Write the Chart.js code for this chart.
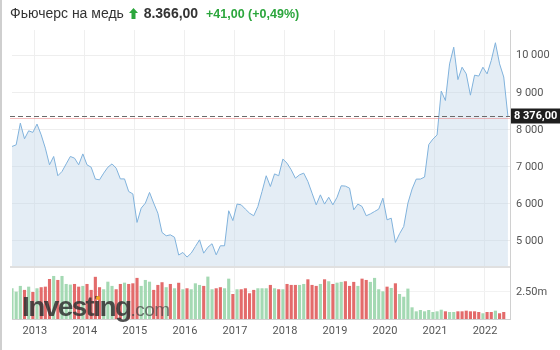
<!DOCTYPE html>
<html>
<head>
<meta charset="utf-8">
<script src="https://cdn.jsdelivr.net/npm/chart.js@4.4.1/dist/chart.umd.min.js"></script>
<style>
  body { margin: 0; background: #fff; }
  #wrap { position: relative; width: 560px; height: 350px; overflow: hidden; font-family: "Liberation Sans", Arial, sans-serif; }
  #edge { position: absolute; left: 0; top: 0; width: 2px; height: 350px; background: #cfcfcf; }
  #title { position: absolute; left: 10px; top: 4px; font-size: 14px; line-height: 18px; color: #333; white-space: nowrap; }
  #title b { color: #333; }
  #title .chg { color: #2ba63c; font-weight: bold; font-size: 12.5px; margin-left: 4px; }
  #title svg { vertical-align: -1px; margin: 0 2px 0 1px; }
  #mark { position: absolute; left: 22px; top: 293px; line-height: 28px; white-space: nowrap; pointer-events: none; }
  #mark .big { font-size: 28px; font-weight: bold; letter-spacing: -1.6px; color: rgba(50,50,50,0.85); }
  #mark .com { font-size: 19px; color: rgba(70,70,70,0.72); letter-spacing: -0.5px; }
  #dot { position: absolute; left: 96px; top: 296px; width: 4px; height: 4px; border-radius: 2px; background: #f5a623; }
</style>
</head>
<body>
<div id="wrap">
  <canvas id="chart" width="560" height="350"></canvas>
  <div id="edge"></div>
  <div id="title">Фьючерс на медь <svg width="9" height="11" viewBox="0 0 9 11"><polygon points="4.5,0 9,5 6.5,5 6.5,11 2.5,11 2.5,5 0,5" fill="#2ba63c"/></svg> <b>8.366,00</b> <span class="chg">+41,00 (+0,49%)</span></div>
  <div id="mark"><span class="big">Investing</span><span class="com">.com</span></div>
  <div id="dot"></div>
</div>
<script>
// месячные данные, первый месяц - июль 2012
const startYear = 2012;
const startMonth = 7;

const yearTicks = [2013, 2014, 2015, 2016, 2017, 2018, 2019, 2020, 2021, 2022];
const priceTicks = [5000, 6000, 7000, 8000, 9000, 10000];
const volumeTicks = [2.5];
const lastPrice = 8376;

const closePrices = [
  7550, 7595, 8180, 7757, 7973, 7930, 8154, 7865, 7505, 7055, 7280, 6760,
  6875, 7080, 7280, 7235, 7055, 7350, 7055, 6990, 6670, 6650, 6830, 6990,
  7080, 6965, 6675, 6675, 6335, 6270, 5500, 5885, 6020, 6310, 6020, 5750,
  5230, 5140, 5165, 5100, 4620, 4690, 4565, 4670, 4850, 5030, 4670, 4830,
  4925, 4625, 4870, 4870, 5815, 5550, 5995, 5975, 5860, 5750, 5680, 5930,
  6335, 6760, 6470, 6810, 6760, 7210, 7100, 6920, 6695, 6785, 6830, 6605,
  6290, 5975, 6245, 5995, 6180, 5975, 6180, 6490, 6480, 6425, 5840, 5995,
  5930, 5680, 5730, 5795, 5860, 6155, 5570, 5615, 4960, 5195, 5390, 6020,
  6400, 6670, 6670, 6725, 7600, 7750, 7860, 9045, 8790, 9780, 10230, 9355,
  9690, 9510, 8935, 9475, 9450, 9690, 9510, 9870, 10350, 9780, 9425, 8370
];

// объём, млн
const volumes = [
  2.84, 2.53, 3.06, 2.69, 2.99, 2.50, 2.84, 2.94, 2.99, 3.70, 3.98, 3.61,
  3.98, 3.24, 3.18, 3.24, 2.99, 3.06, 3.24, 2.69, 3.90, 2.94, 2.75, 3.45,
  3.06, 2.75, 3.24, 3.36, 3.24, 3.30, 3.80, 3.06, 3.61, 3.45, 2.69, 3.15,
  3.40, 2.94, 3.24, 2.84, 3.35, 2.75, 2.84, 2.75, 3.30, 3.15, 3.06, 3.92,
  2.75, 2.84, 2.94, 2.84, 3.73, 2.31, 2.75, 2.75, 2.84, 2.38, 2.69, 2.84,
  2.84, 2.84, 3.15, 2.84, 2.75, 2.75, 3.24, 3.15, 3.15, 3.15, 3.24, 3.67,
  3.15, 3.06, 3.24, 3.67, 3.49, 3.24, 3.36, 3.43, 3.49, 3.06, 3.43, 3.06,
  3.73, 3.61, 3.43, 3.80, 2.75, 2.56, 2.99, 2.87, 3.30, 2.31, 2.06, 2.81,
  1.08, 0.71, 0.83, 0.71, 0.83, 0.65, 0.71, 0.86, 0.71, 0.65, 0.65, 0.71,
  0.71, 0.77, 0.71, 0.71, 0.65, 0.53, 0.65, 0.65, 0.77, 0.53, 0.65, null
];

// u - рост, d - падение (цвет столбика объёма)
const barDirection = [
  'u','u','u','d','u','d','u','d','d','d','u','d',
  'u','u','u','d','d','u','d','d','d','d','u','u',
  'u','d','d','u','d','d','d','u','u','u','d','d',
  'd','u','d','u','d','u','d','u','u','u','d','u',
  'u','d','d','u','u','d','u','d','d','d','d','u',
  'u','u','d','u','d','u','d','d','d','u','u','d',
  'd','d','u','d','u','d','u','u','d','d','d','u',
  'd','d','u','u','u','u','d','u','d','u','u','u',
  'u','u','u','u','u','u','u','u','d','u','u','d',
  'd','d','d','d','d','u','d','d','u','d','d','d'
];

// позиция месяца: месяцы от января 2013, середина месяца
const monthPos = closePrices.map((_, i) => (startYear - 2013) * 12 + (startMonth - 1) + i + 0.5);

const fmtThousands = v => String(v).replace(/\B(?=(\d{3})+(?!\d))/g, ' ');

const overlay = {
  id: 'overlay',
  afterDraw(chart) {
    const {ctx, chartArea} = chart;
    const y = chart.scales.y;
    ctx.save();
    // серая полоса под графиком цены
    ctx.fillStyle = '#e0e0e0';
    ctx.fillRect(chartArea.left - 2, y.bottom, chartArea.right - chartArea.left + 2, 2);

    const py = Math.round(y.getPixelForValue(lastPrice)) + 0.5;
    ctx.lineWidth = 1;
    ctx.strokeStyle = 'rgba(235,120,120,0.5)';
    ctx.beginPath();
    ctx.moveTo(chartArea.left - 2, py + 2);
    ctx.lineTo(chartArea.right, py + 2);
    ctx.stroke();

    ctx.strokeStyle = '#6a6a6a';
    ctx.setLineDash([5, 3]);
    ctx.beginPath();
    ctx.moveTo(chartArea.left - 2, py);
    ctx.lineTo(chartArea.right, py);
    ctx.stroke();
    ctx.setLineDash([]);

    ctx.fillStyle = '#1e1e1e';
    ctx.fillRect(chartArea.right + 1, py - 8, 50, 15);
    ctx.fillStyle = '#fff';
    ctx.font = 'bold 11px Roboto, "Liberation Sans", sans-serif';
    ctx.textBaseline = 'middle';
    ctx.textAlign = 'left';
    ctx.fillText(fmtThousands(lastPrice) + ',00', chartArea.right + 4, py);
    ctx.restore();
  }
};

new Chart(document.getElementById('chart'), {
  type: 'line',
  data: {
    datasets: [
      {
        label: 'Цена',
        data: closePrices.map((v, i) => ({x: monthPos[i], y: v})),
        yAxisID: 'y',
        borderColor: '#80b2dc',
        backgroundColor: 'rgba(190,212,230,0.42)',
        borderWidth: 1,
        pointRadius: 0,
        tension: 0,
        fill: 'start'
      },
      {
        type: 'bar',
        label: 'Объём',
        data: volumes.map((v, i) => ({x: monthPos[i], y: v})),
        yAxisID: 'yv',
        backgroundColor: barDirection.map(d => d === 'u' ? '#a4d9b3' : '#e36b6b'),
        barPercentage: 0.75,
        categoryPercentage: 1
      }
    ]
  },
  options: {
    responsive: false,
    animation: false,
    layout: {padding: {top: 30, left: 12}},
    plugins: {legend: {display: false}, tooltip: {enabled: false}},
    scales: {
      x: {
        type: 'linear',
        min: monthPos[0],
        max: monthPos[monthPos.length - 1] + 0.5,
        offset: false,
        afterBuildTicks: s => { s.ticks = yearTicks.map(y => ({value: (y - 2013) * 12})); },
        afterFit: s => { s.height = 31; },
        grid: {color: '#efefef', drawTicks: false, offset: false},
        border: {color: '#d0d0d0'},
        ticks: {
          padding: 6,
          color: '#555',
          font: {family: 'Roboto', size: 11},
          maxRotation: 0,
          autoSkip: false,
          callback: v => String(2013 + v / 12)
        }
      },
      y: {
        position: 'right',
        stack: 'panes',
        stackWeight: 236,
        min: 4324,
        max: 10694,
        afterBuildTicks: s => { s.ticks = priceTicks.map(v => ({value: v})); },
        afterFit: s => { s.width = 50; },
        grid: {color: '#eeeeee', drawTicks: false},
        border: {color: '#d0d0d0'},
        ticks: {
          padding: 6,
          color: '#555',
          font: {family: 'Roboto', size: 11},
          callback: v => fmtThousands(v)
        }
      },
      yv: {
        position: 'right',
        stack: 'panes',
        stackWeight: 53,
        min: 0,
        max: 4.9,
        offset: false,
        afterBuildTicks: s => { s.ticks = volumeTicks.map(v => ({value: v})); },
        afterFit: s => { s.width = 50; },
        grid: {color: '#f2f2f2', drawTicks: false},
        border: {color: '#d0d0d0'},
        ticks: {
          padding: 6,
          color: '#555',
          font: {family: 'Roboto', size: 11},
          callback: v => v.toFixed(2) + 'm'
        }
      }
    }
  },
  plugins: [overlay]
});
</script>
</body>
</html>
